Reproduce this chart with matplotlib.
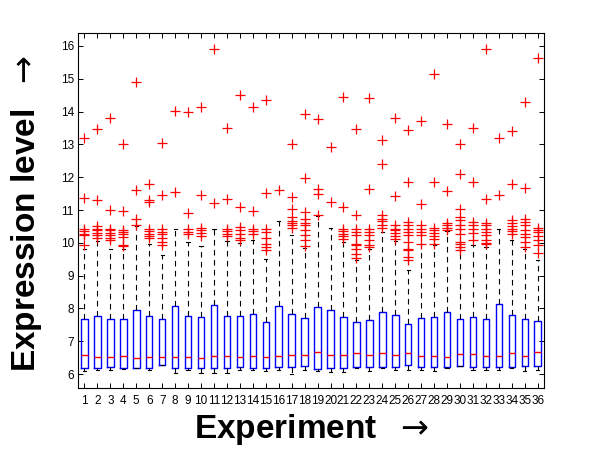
import matplotlib
matplotlib.use("Agg")
import matplotlib.pyplot as plt

experiments = list(range(1, 37))

q1 = [6.20, 6.20, 6.23, 6.20, 6.20, 6.20, 6.27, 6.20, 6.18, 6.20, 6.20, 6.20,
      6.23, 6.20, 6.20, 6.21, 6.21, 6.26, 6.16, 6.18, 6.18, 6.21, 6.21, 6.21,
      6.21, 6.27, 6.21, 6.21, 6.21, 6.26, 6.21, 6.21, 6.21, 6.23, 6.24, 6.24]
med = [6.58, 6.53, 6.53, 6.55, 6.49, 6.53, 6.52, 6.52, 6.52, 6.50, 6.56, 6.56,
       6.52, 6.55, 6.53, 6.54, 6.59, 6.59, 6.67, 6.58, 6.58, 6.63, 6.59, 6.65,
       6.58, 6.65, 6.56, 6.56, 6.51, 6.62, 6.61, 6.55, 6.56, 6.63, 6.55, 6.68]
q3 = [7.68, 7.77, 7.68, 7.68, 7.95, 7.77, 7.68, 8.07, 7.76, 7.74, 8.11, 7.77,
      7.77, 7.82, 7.59, 8.07, 7.83, 7.70, 8.04, 7.95, 7.74, 7.59, 7.66, 7.88,
      7.79, 7.53, 7.72, 7.75, 7.88, 7.67, 7.74, 7.68, 8.13, 7.80, 7.68, 7.61]
whislo = [6.10, 6.12, 6.14, 6.16, 6.18, 6.12, 6.27, 6.02, 6.14, 6.02, 6.02, 6.02,
          6.14, 6.14, 6.08, 6.14, 6.00, 6.14, 6.10, 6.06, 6.06, 6.20, 6.08, 6.18,
          6.14, 6.14, 6.14, 6.10, 6.18, 6.26, 6.14, 6.14, 6.14, 6.18, 6.10, 6.12]
whishi = [9.82, 10.05, 9.80, 9.80, 10.50, 9.96, 9.64, 10.43, 10.02, 9.91, 10.42, 10.05,
          10.00, 10.10, 9.52, 10.66, 10.24, 9.85, 10.82, 10.44, 10.02, 9.49, 9.80, 10.32,
          10.06, 9.16, 9.97, 9.94, 10.35, 9.78, 9.94, 9.87, 10.42, 10.09, 9.80, 9.49]
outliers = [
    [13.19, 11.37, 10.41, 10.35, 10.28, 10.23, 9.94],
    [13.48, 11.30, 10.50, 10.43, 10.38, 10.30, 10.23, 10.16],
    [13.79, 10.99, 10.43, 10.38, 10.30, 10.23, 10.16, 10.08],
    [13.00, 10.96, 10.40, 10.33, 10.26, 10.18, 9.94, 9.91],
    [14.89, 11.61, 10.74, 10.53],
    [11.78, 11.30, 11.25, 10.41, 10.35, 10.28, 10.20, 10.16],
    [13.03, 11.47, 10.41, 10.33, 10.28, 10.16, 10.03, 9.92],
    [14.03, 11.56],
    [14.00, 10.92, 10.41, 10.33, 10.28],
    [14.15, 11.47, 10.46, 10.38, 10.30, 10.20],
    [15.91, 11.22],
    [13.51, 11.35, 10.43, 10.36, 10.28, 10.20],
    [14.50, 11.09, 10.48, 10.38, 10.28, 10.16, 10.08],
    [14.13, 10.97, 10.43, 10.36, 10.28],
    [14.36, 11.52, 10.43, 10.33, 10.16, 9.97, 9.87, 9.77],
    [11.61],
    [13.00, 11.40, 11.02, 10.79, 10.67, 10.61, 10.53, 10.46],
    [13.93, 11.99, 10.94, 10.74, 10.61, 10.53, 10.38, 10.23, 10.08, 9.89],
    [13.78, 11.63, 11.50, 10.84],
    [12.93, 11.23],
    [14.44, 11.08, 10.43, 10.36, 10.28, 10.20, 10.13],
    [13.46, 10.84, 10.41, 10.33, 10.23, 9.97, 9.92, 9.82, 9.67, 9.55],
    [14.41, 11.63, 10.41, 10.33, 10.23, 10.08, 9.92, 9.87],
    [13.12, 12.40, 10.84, 10.74, 10.67, 10.53, 10.46],
    [13.82, 11.43, 10.53, 10.43, 10.38, 10.30, 10.20, 10.13],
    [13.43, 11.86, 10.64, 10.53, 10.43, 10.33, 10.23, 10.03, 9.82, 9.77, 9.57, 9.47],
    [13.71, 11.18, 10.53, 10.43, 10.33, 10.23, 9.97],
    [15.15, 11.86, 10.46, 10.38, 10.30, 10.20, 10.13, 9.97],
    [13.61, 11.59, 10.61, 10.53, 10.46, 10.38],
    [13.01, 12.09, 11.02, 10.79, 10.69, 10.53, 10.43, 10.28, 10.03, 9.97, 9.87, 9.77],
    [13.50, 11.86, 10.64, 10.53, 10.43, 10.30, 10.08],
    [15.91, 11.33, 10.61, 10.53, 10.43, 10.33, 10.23, 10.08, 10.00, 9.96],
    [13.21, 11.45],
    [13.40, 11.78, 10.69, 10.61, 10.51, 10.43, 10.36, 10.28],
    [14.28, 11.68, 10.74, 10.64, 10.53, 10.38, 10.28, 10.18, 10.03, 9.87],
    [15.63, 10.46, 10.40, 10.33, 10.20, 10.08, 9.92, 9.69],
]
yticks = [6, 7, 8, 9, 10, 11, 12, 13, 14, 15, 16]
xlabel_text = r"Experiment  $\rightarrow$"
ylabel_text = r"Expression level  $\rightarrow$"

plt.rcParams['font.family'] = ['Liberation Sans', 'DejaVu Sans']
plt.rcParams['mathtext.fontset'] = 'dejavusans'

fig = plt.figure(figsize=(6, 4.5), dpi=100)
ax = fig.add_axes([0.13, 0.138, 0.777, 0.789])

stats = []
for i in range(len(experiments)):
    stats.append(dict(med=med[i], q1=q1[i], q3=q3[i], whislo=whislo[i],
                      whishi=whishi[i], fliers=outliers[i]))

ax.bxp(stats, positions=experiments, widths=0.5, capwidths=0.25,
       showfliers=True,
       boxprops=dict(color='#0000ff', linewidth=1.0),
       whiskerprops=dict(color='black', linewidth=0.8, linestyle=(0, (5, 4))),
       capprops=dict(color='black', linewidth=0.8),
       medianprops=dict(color='#ff0000', linewidth=1.0),
       flierprops=dict(marker='+', markeredgecolor='#ff0000', markersize=6.5,
                       markeredgewidth=0.9, linestyle='none'))

ax.set_xlim(0.5, 36.5)
ax.set_ylim(5.58, 16.40)
ax.set_yticks(yticks)
ax.set_xticks(experiments)
ax.set_xticklabels([str(e) for e in experiments])
ax.tick_params(direction='in', length=3.5, width=0.7, top=True, right=True,
               labelsize=8.5)
ax.tick_params(axis='x', pad=5)
ax.tick_params(axis='y', pad=3)
for s in ax.spines.values():
    s.set_linewidth(0.8)

ax.set_xlabel(xlabel_text, fontsize=24, fontweight='bold')
ax.xaxis.set_label_coords(0.5, -0.068)
ax.set_ylabel(ylabel_text, fontsize=24, fontweight='bold')
ax.yaxis.set_label_coords(-0.073, 0.49)

fig.savefig("out.png", dpi=100)
